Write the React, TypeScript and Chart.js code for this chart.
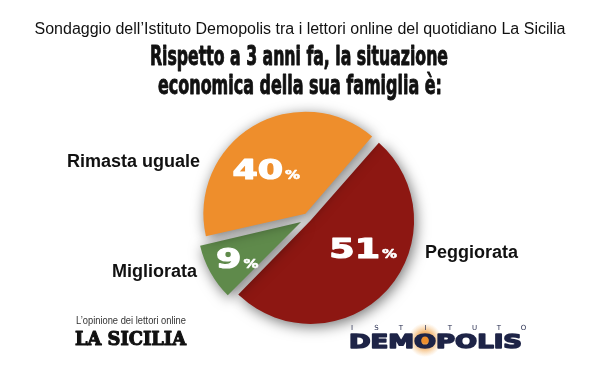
import React, { useEffect, useRef } from "react";
import { Chart, registerables } from "chart.js";

Chart.register(...registerables);

// ---- data ----
const categories = ["Peggiorata", "Migliorata", "Rimasta uguale"];
const values = [51, 9, 40];
const sliceColors = ["#8D1712", "#5F8A4B", "#EE8E2C"];
const titleText = "Sondaggio dell’Istituto Demopolis tra i lettori online del quotidiano La Sicilia";
const questionLines = ["Rispetto a 3 anni fa, la situazione", "economica della sua famiglia è:"];
const sourceNote = "L’opinione dei lettori online";
const sourceName = "LA SICILIA";
const instituteTop = "ISTITUTO";
const instituteName = "DEMOPOLIS";

// label placement styles (angle shift in degrees, radius fraction)
const pctPlacement = [
  { da: -16, r: 0.56 },
  { da: -1, r: 0.7 },
  { da: -11, r: 0.57 },
];

// actual translation Chart.js applies for an arc offset
function arcShift(offset: number, circumference: number) {
  const o = offset / 4;
  const fix = 1 - Math.sin(Math.min(Math.PI, circumference || 0));
  return o + o * fix;
}

const shadowPlugin = {
  id: "sliceShadow",
  beforeDatasetsDraw(chart: any) {
    const c = chart.ctx;
    c.save();
    c.shadowColor = "rgba(0,0,0,0.55)";
    c.shadowBlur = 14;
    c.shadowOffsetX = 2;
    c.shadowOffsetY = 3;
  },
  afterDatasetsDraw(chart: any) {
    chart.ctx.restore();
  },
};

function heavyText(ctx: CanvasRenderingContext2D, t: string, x: number, y: number, lw: number, maxW?: number) {
  ctx.lineWidth = lw;
  ctx.lineJoin = "round";
  ctx.strokeStyle = ctx.fillStyle as string;
  if (maxW) {
    ctx.strokeText(t, x, y, maxW);
    ctx.fillText(t, x, y, maxW);
  } else {
    ctx.strokeText(t, x, y);
    ctx.fillText(t, x, y);
  }
}

function drawPct(ctx: CanvasRenderingContext2D, num: string, cx: number, cy: number) {
  const sx = 1.4;
  ctx.save();
  ctx.fillStyle = "#ffffff";
  ctx.textBaseline = "alphabetic";
  ctx.textAlign = "left";
  const bigFont = 'bold 26px "DejaVu Sans", sans-serif';
  const smallFont = 'bold 13px "DejaVu Sans", sans-serif';
  ctx.font = bigFont;
  const w1 = ctx.measureText(num).width * sx;
  ctx.font = smallFont;
  const w2 = ctx.measureText("%").width * 1.15;
  const total = w1 + 2 + w2;
  const x0 = cx - total / 2;
  const base = cy + 9.5;
  ctx.save();
  ctx.translate(x0, base);
  ctx.scale(sx, 1);
  ctx.font = bigFont;
  heavyText(ctx, num, 0, 0, 1.2);
  ctx.restore();
  ctx.save();
  ctx.translate(x0 + w1 + 2, base);
  ctx.scale(1.15, 1);
  ctx.font = smallFont;
  heavyText(ctx, "%", 0, 0, 0.6);
  ctx.restore();
  ctx.restore();
}

const textPlugin = {
  id: "texts",
  afterDraw(chart: any) {
    const ctx: CanvasRenderingContext2D = chart.ctx;
    ctx.save();
    // title
    ctx.fillStyle = "#111";
    ctx.textAlign = "center";
    ctx.textBaseline = "alphabetic";
    ctx.font = '16px "Liberation Sans", Arial, sans-serif';
    ctx.fillText(titleText, 300, 34);
    ctx.font = 'bold 27px "Liberation Sans Narrow", "DejaVu Sans Condensed", sans-serif';
    heavyText(ctx, questionLines[0], 299, 65, 0.9, 298);
    heavyText(ctx, questionLines[1], 300, 94, 0.9, 284);

    // slice percentages
    const meta = chart.getDatasetMeta(0);
    meta.data.forEach((arc: any, i: number) => {
      const p = arc.getProps(["x", "y", "startAngle", "endAngle", "outerRadius", "circumference"], true);
      const shift = arcShift(arc.options.offset || 0, p.circumference);
      const mid = (p.startAngle + p.endAngle) / 2;
      const ox = p.x + Math.cos(mid) * shift;
      const oy = p.y + Math.sin(mid) * shift;
      const a = mid + (pctPlacement[i].da * Math.PI) / 180;
      const lx = ox + Math.cos(a) * p.outerRadius * pctPlacement[i].r;
      const ly = oy + Math.sin(a) * p.outerRadius * pctPlacement[i].r;
      drawPct(ctx, String(values[i]), lx, ly);
    });

    // category labels
    ctx.fillStyle = "#111";
    ctx.font = 'bold 18px "Liberation Sans", Arial, sans-serif';
    ctx.textAlign = "left";
    ctx.fillText(categories[0], 425, 258);
    ctx.textAlign = "right";
    ctx.fillText(categories[2], 200, 167);
    ctx.fillText(categories[1], 197, 277);

    // La Sicilia logo
    ctx.textAlign = "left";
    ctx.fillStyle = "#333";
    ctx.font = '10px "Liberation Sans", Arial, sans-serif';
    ctx.fillText(sourceNote, 76, 324, 110);
    ctx.fillStyle = "#111";
    ctx.font = 'bold 19px "DejaVu Serif", serif';
    heavyText(ctx, sourceName, 75, 345, 1.1, 111);

    // Demopolis logo
    const g = ctx.createRadialGradient(425, 340, 1, 425, 340, 17);
    g.addColorStop(0, "rgba(238,142,44,1)");
    g.addColorStop(0.45, "rgba(240,160,70,0.75)");
    g.addColorStop(1, "rgba(245,190,120,0)");
    ctx.fillStyle = g;
    ctx.beginPath();
    ctx.arc(425, 340, 17, 0, Math.PI * 2);
    ctx.fill();

    ctx.fillStyle = "#1E2447";
    ctx.font = '7px "DejaVu Sans", sans-serif';
    ctx.textAlign = "center";
    const letters = instituteTop.split("");
    letters.forEach((ch, k) => {
      ctx.fillText(ch, 352 + k * 24.5, 330);
    });
    ctx.save();
    ctx.textAlign = "left";
    ctx.font = 'bold 20px "DejaVu Sans", sans-serif';
    const w = ctx.measureText(instituteName).width;
    const sx = 173 / w;
    ctx.translate(349, 348);
    ctx.scale(sx, 1);
    heavyText(ctx, instituteName, 0, 0, 1.6);
    ctx.restore();
    // small dot in the O
    ctx.fillStyle = "#EE8E2C";
    ctx.beginPath();
    ctx.arc(425, 340, 3.5, 0, Math.PI * 2);
    ctx.fill();

    ctx.restore();
  },
};

export default function App() {
  const ref = useRef<HTMLCanvasElement | null>(null);
  useEffect(() => {
    if (!ref.current) return;
    const chart = new Chart(ref.current, {
      type: "pie",
      data: {
        labels: categories,
        datasets: [
          {
            data: values,
            backgroundColor: sliceColors,
            borderWidth: 0,
            offset: [14, 32, 20],
            radius: 100,
          } as any,
        ],
      },
      options: {
        responsive: false,
        animation: false,
        devicePixelRatio: 1,
        rotation: 41,
        layout: { padding: { left: 204, right: 188, top: 109, bottom: 47 } },
        plugins: {
          legend: { display: false },
          tooltip: { enabled: false },
          title: { display: false },
        },
      } as any,
      plugins: [shadowPlugin, textPlugin],
    });
    return () => chart.destroy();
  }, []);
  return (
    <div style={{ position: "absolute", left: 0, top: 0, width: 600, height: 374, background: "#fff" }}>
      <canvas ref={ref} width={600} height={374} />
    </div>
  );
}
